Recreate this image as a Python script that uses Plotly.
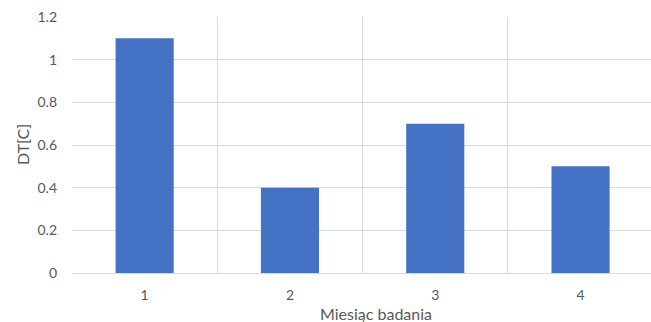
import plotly.graph_objects as go

# Monthly temperature difference measurements
months = [1, 2, 3, 4]
month_labels = ["1", "2", "3", "4"]
dt_values = [1.1, 0.4, 0.7, 0.5]
y_ticks = [0, 0.2, 0.4, 0.6, 0.8, 1.0, 1.2]
y_tick_labels = ["0", "0.2", "0.4", "0.6", "0.8", "1", "1.2"]

text_color = "#595959"
grid_color = "#d9d9d9"
font_family = "Lato, 'Open Sans', sans-serif"

fig = go.Figure(
    go.Bar(
        x=months,
        y=dt_values,
        width=0.4,
        marker=dict(color="#4472C4", line=dict(width=0)),
    )
)

fig.update_layout(
    width=651,
    height=322,
    margin=dict(l=72, r=0, t=17, b=49),
    paper_bgcolor="white",
    plot_bgcolor="white",
    showlegend=False,
    font=dict(family=font_family, size=14, color=text_color),
    xaxis=dict(
        range=[0.5, 0.5 + 579 / 145.3],
        tickvals=months,
        ticktext=month_labels,
        showgrid=False,
        zeroline=False,
        showline=False,
        ticks="",
        ticklabelstandoff=12,
        minor=dict(tickvals=[0.5, 1.5, 2.5, 3.5, 4.5], showgrid=True,
                   gridcolor=grid_color, gridwidth=1),
    ),
    yaxis=dict(
        range=[0, 1.2],
        tickvals=y_ticks,
        ticktext=y_tick_labels,
        showgrid=True,
        gridcolor=grid_color,
        gridwidth=1,
        zeroline=True,
        zerolinecolor=grid_color,
        zerolinewidth=1,
        ticks="",
        ticklabelstandoff=14,
    ),
    annotations=[
        dict(text="Miesiąc badania", xref="paper", yref="paper",
             x=(376 - 72) / 579, y=-(313 - 273) / 256,
             xanchor="center", yanchor="middle", showarrow=False,
             font=dict(size=16, color=text_color, family=font_family)),
        dict(text="DT[C]", xref="paper", yref="paper",
             x=-(72 - 22) / 579, y=0.5, textangle=-90,
             xanchor="center", yanchor="middle", showarrow=False,
             font=dict(size=16, color=text_color, family=font_family)),
    ],
)

fig.write_html("out.html")
